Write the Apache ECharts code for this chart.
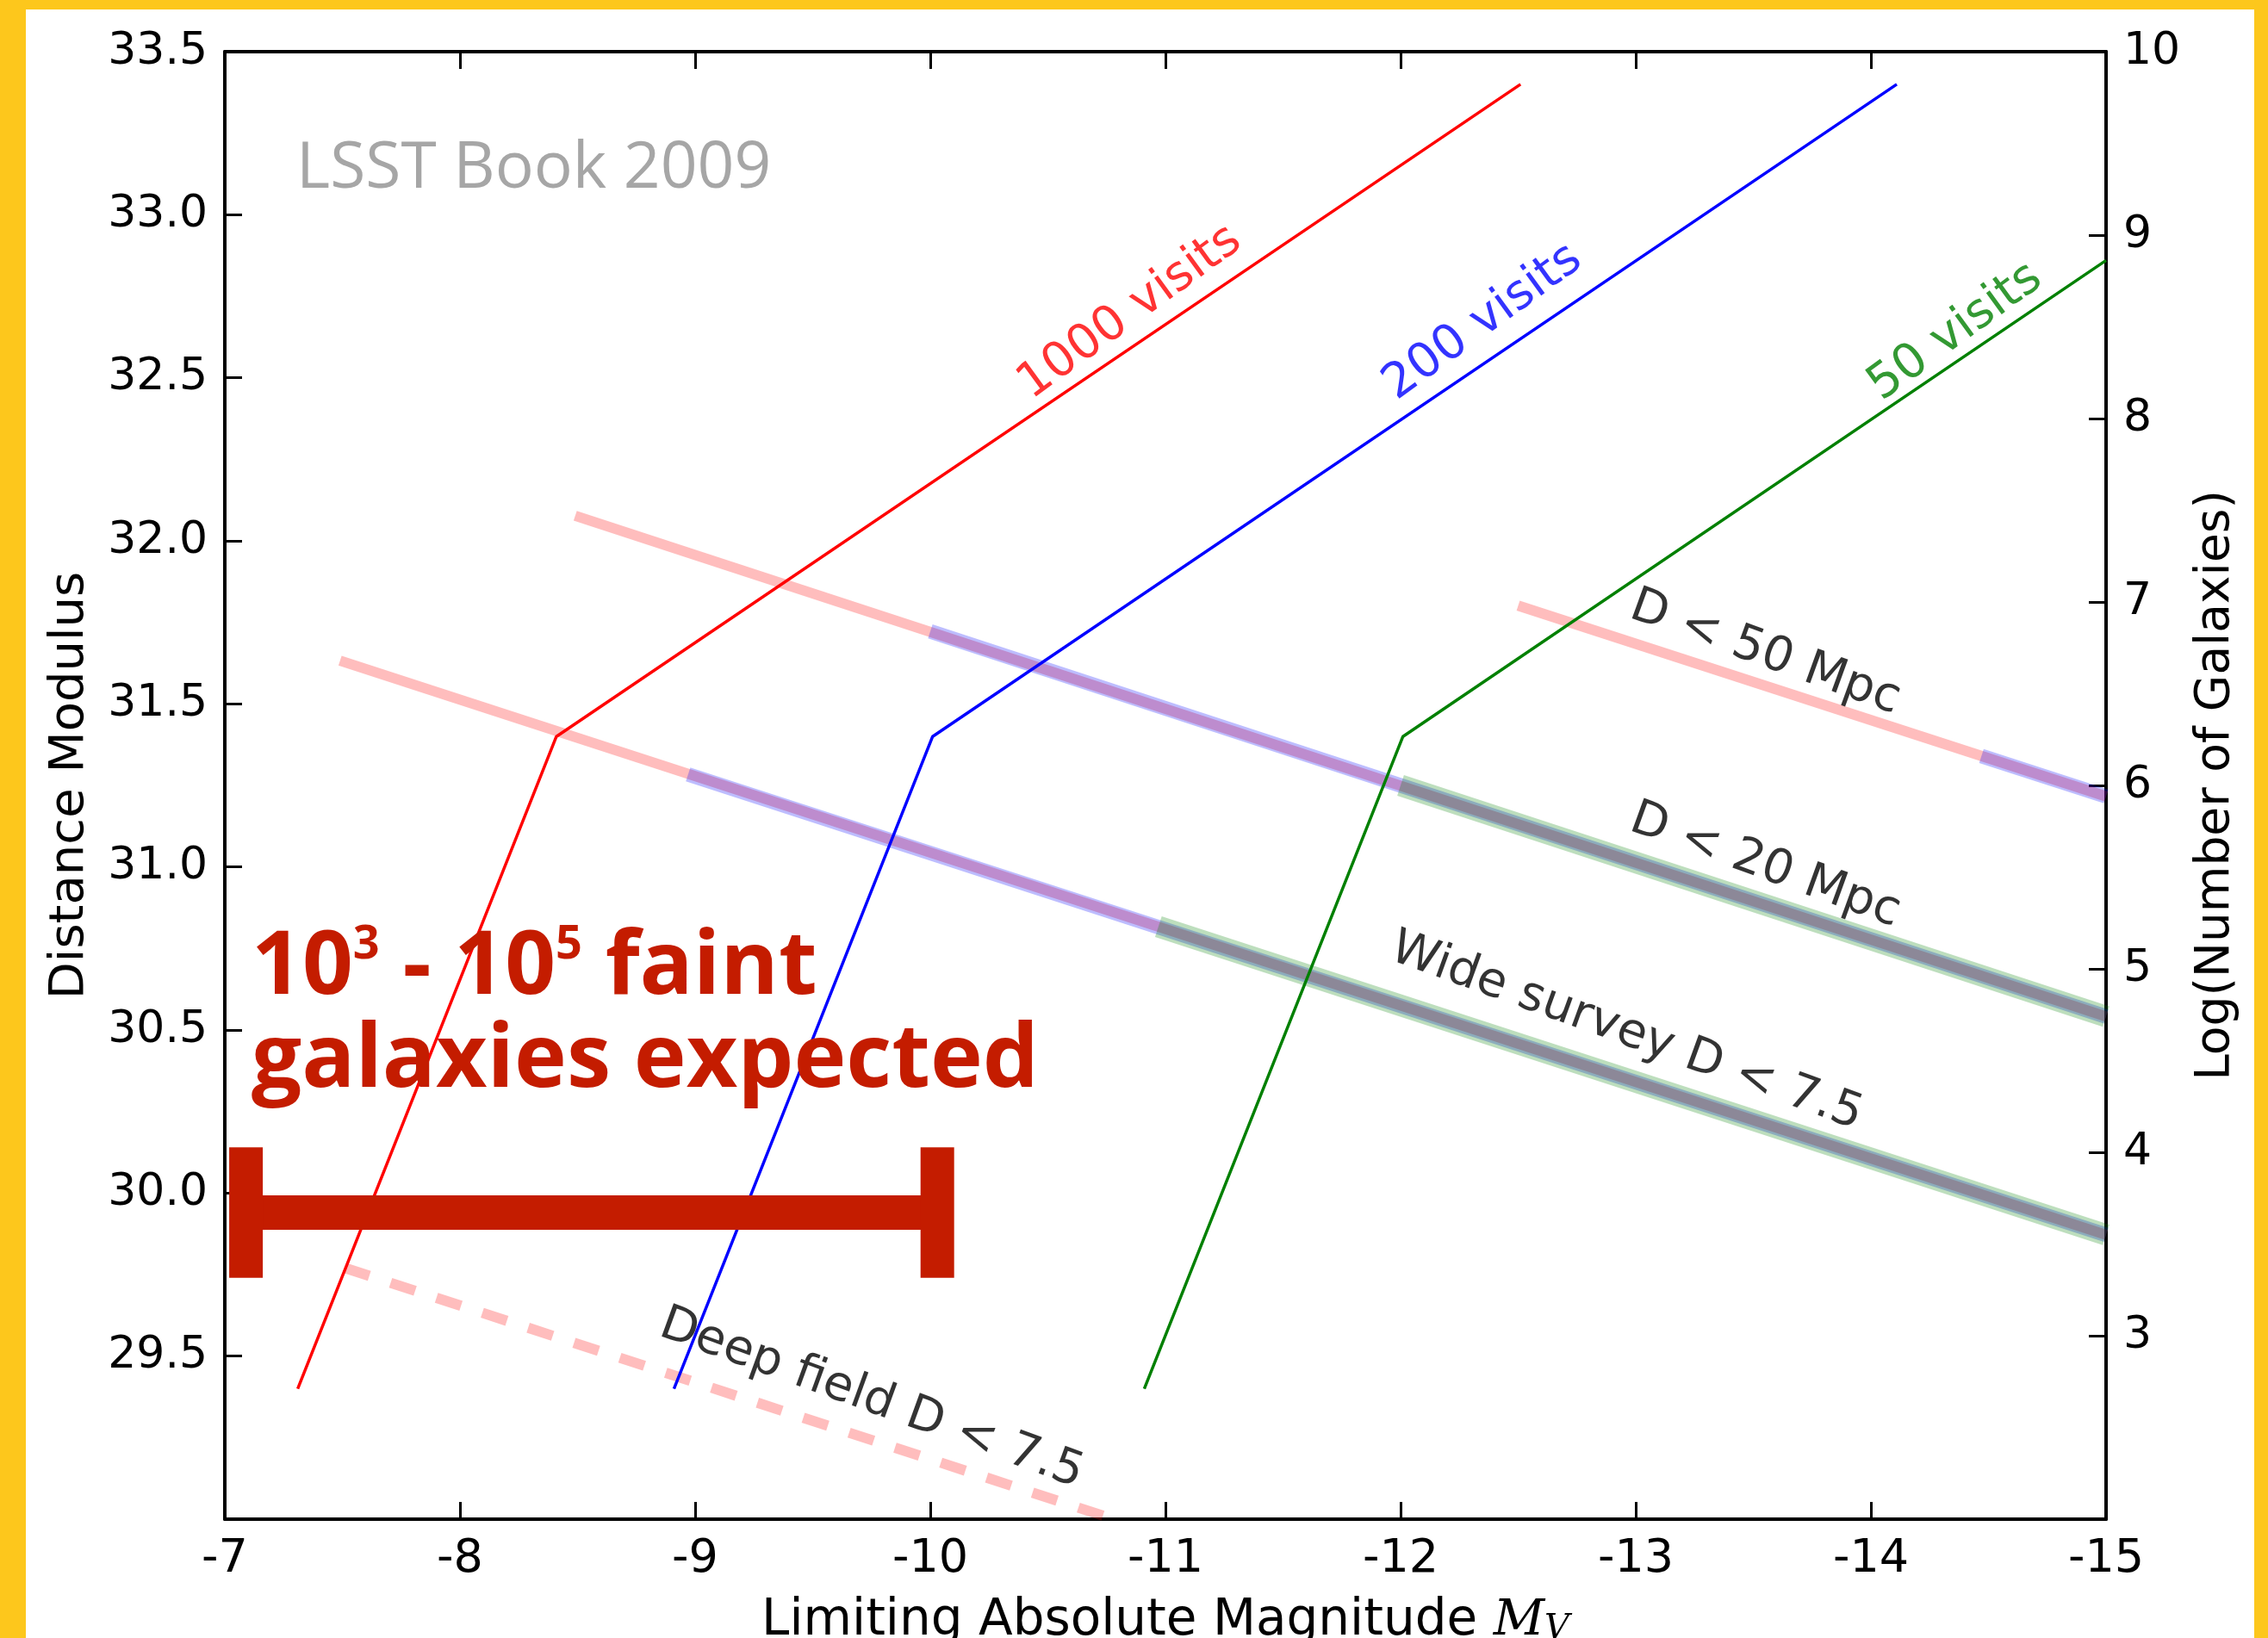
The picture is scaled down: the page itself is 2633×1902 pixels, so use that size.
<!DOCTYPE html>
<html><head><meta charset="utf-8">
<script src="https://cdn.jsdelivr.net/npm/echarts@6/dist/echarts.min.js"></script>
<style>html,body{margin:0;padding:0;background:#FDC71C;}#c{width:2633px;height:1902px;}</style>
</head><body><div id="c"></div>
<script>
// ---------- data ----------
// limiting-magnitude tracks (x = M_V, y = distance modulus, left axis)
const visits1000 = [[-7.31, 29.40], [-8.41, 31.40], [-12.51, 33.40]];
const visits200  = [[-8.91, 29.40], [-10.01, 31.40], [-14.11, 33.40]];
const visits50   = [[-10.91, 29.40], [-12.01, 31.40], [-15.00, 32.86]];
// galaxy-count lines (x = M_V, y = log N, right axis); red/blue/green layers
const d50Red    = [[-12.50, 6.98], [-15.00, 5.94]];
const d50Blue   = [[-14.47, 6.16], [-15.00, 5.94]];
const d20Red    = [[-8.49, 7.47], [-15.00, 4.74]];
const d20Blue   = [[-10.00, 6.84], [-15.00, 4.74]];
const d20Green  = [[-12.00, 6.00], [-15.00, 4.74]];
const wideRed   = [[-7.49, 6.68], [-15.00, 3.55]];
const wideBlue  = [[-8.97, 6.06], [-15.00, 3.55]];
const wideGreen = [[-10.97, 5.23], [-15.00, 3.55]];
const deepRed   = [[-7.51, 3.37], [-10.78, 2.00]];
// highlighted magnitude range (annotation bar)
const faintRangeX = [-7.09, -10.03];
const faintRangeY = 29.94;
const faintCapY = [29.74, 30.14];
// text labels
const visitNames = ['1000 visits', '200 visits', '50 visits'];
const countNames = ['D < 50 Mpc', 'D < 20 Mpc', 'Wide survey D < 7.5', 'Deep field D < 7.5'];

// ---------- layout / style ----------
const RED = '#ff0000', BLUE = '#0000ff', GREEN = '#008000', ANN = '#C41C00';
const visitLabelAt = [[-10.85, 32.70], [-12.35, 32.67], [-14.36, 32.64]];
const visitLabelColor = [RED, BLUE, GREEN];
const countLabelAt = [[-13.55, 6.72], [-13.55, 5.56], [-12.96, 4.655], [-9.75, 2.654]];
const OP = 0.26, WR = 12, WB = 17, WG = 25;

function thin(data, color) {
  return {type: 'line', data, yAxisIndex: 0, symbol: 'none', silent: true, z: 4,
    lineStyle: {color, width: 3.5}};
}
function thick(data, color, w, dashed) {
  return {type: 'line', data, yAxisIndex: 1, symbol: 'none', silent: true, z: 3,
    lineStyle: {color, width: w, opacity: OP, cap: 'butt', type: dashed ? [30, 26] : 'solid'}};
}
function bar(data, w) {
  return {type: 'line', data, yAxisIndex: 0, symbol: 'none', silent: true, z: 6,
    lineStyle: {color: ANN, width: w, cap: 'butt'}};
}
const tickFont = {fontFamily: 'DejaVu Sans', fontSize: 52, color: '#000'};
const spine = {onZero: false, lineStyle: {color: '#000', width: 4}};
const ticks = {inside: true, length: 20, lineStyle: {color: '#000', width: 3}};

const option = {
  backgroundColor: '#FDC71C',
  animation: false,
  grid: {left: 261, right: 188, top: 60, bottom: 138, containLabel: false, outerBoundsMode: 'none'},
  xAxis: [
    {type: 'value', min: -15, max: -7, interval: 1, inverse: true, position: 'bottom',
     axisLine: spine, axisTick: ticks, splitLine: {show: false},
     axisLabel: Object.assign({}, tickFont, {fontSize: 54, margin: 20}),
     name: 'Limiting Absolute Magnitude {i|M}{s|V}', nameLocation: 'middle', nameGap: 90,
     nameTextStyle: {fontFamily: 'DejaVu Sans', fontSize: 58, color: '#000', rich: {
       i: {fontFamily: 'DejaVu Serif', fontStyle: 'italic', fontSize: 58, color: '#000'},
       s: {fontFamily: 'DejaVu Serif', fontStyle: 'italic', fontSize: 40, color: '#000', verticalAlign: 'bottom'}
     }}},
    {type: 'value', min: -15, max: -7, interval: 1, inverse: true, position: 'top',
     axisLine: spine, axisTick: ticks, splitLine: {show: false}, axisLabel: {show: false}}
  ],
  yAxis: [
    {type: 'value', min: 29, max: 33.5, interval: 0.5, position: 'left',
     axisLine: spine, axisTick: ticks, splitLine: {show: false},
     axisLabel: Object.assign({margin: 20, showMinLabel: false, formatter: v => v.toFixed(1)}, tickFont),
     name: 'Distance Modulus', nameLocation: 'middle', nameGap: 152,
     nameTextStyle: {fontFamily: 'DejaVu Sans', fontSize: 56, color: '#000'}},
    {type: 'value', min: 2, max: 10, interval: 1, position: 'right',
     axisLine: spine, axisTick: ticks, splitLine: {show: false},
     axisLabel: Object.assign({margin: 20, showMinLabel: false}, tickFont),
     name: 'Log(Number of Galaxies)', nameLocation: 'middle', nameGap: 100,
     nameTextStyle: {fontFamily: 'DejaVu Sans', fontSize: 55, color: '#000'}}
  ],
  graphic: [
    {type: 'rect', left: 30, top: 11, z: -100, silent: true,
     shape: {width: 2587, height: 1891}, style: {fill: '#ffffff'}},
    {type: 'text', left: 344, top: 159, z: 10, silent: true,
     style: {text: 'LSST Book 2009', fontFamily: 'Open Sans', fontSize: 75, fill: '#a6a6a6'}},
    {type: 'text', left: 292, top: 1071, z: 10, silent: true,
     style: {
       text: '{b|10}{s|3}{b| - 10}{s|5}{b| faint}\n{b|galaxies expected}',
       rich: {
         b: {fontFamily: 'Open Sans', fontWeight: 'bold', fontSize: 103, lineHeight: 108, fill: ANN},
         s: {fontFamily: 'Open Sans', fontWeight: 'bold', fontSize: 54, lineHeight: 82, fill: ANN, verticalAlign: 'top'}
       }
     }}
  ],
  series: [
    thick(d50Red, RED, WR), thick(d50Blue, BLUE, WB),
    thick(d20Red, RED, WR), thick(d20Blue, BLUE, WB), thick(d20Green, GREEN, WG),
    thick(wideRed, RED, WR), thick(wideBlue, BLUE, WB), thick(wideGreen, GREEN, WG),
    thick(deepRed, RED, WR, true),
    thin(visits1000, RED), thin(visits200, BLUE), thin(visits50, GREEN),
    bar([[faintRangeX[0], faintRangeY], [faintRangeX[1], faintRangeY]], 40),
    bar([[faintRangeX[0], faintCapY[0]], [faintRangeX[0], faintCapY[1]]], 39),
    bar([[faintRangeX[1], faintCapY[0]], [faintRangeX[1], faintCapY[1]]], 39),
    {type: 'scatter', yAxisIndex: 0, symbolSize: 0, silent: true, z: 7,
     data: visitNames.map((t, k) => ({value: visitLabelAt[k],
       label: {show: true, formatter: t, color: visitLabelColor[k], rotate: 36}})),
     label: {position: 'inside', fontFamily: 'DejaVu Sans', fontSize: 56}},
    {type: 'scatter', yAxisIndex: 1, symbolSize: 0, silent: true, z: 7,
     data: countNames.map((t, k) => ({value: countLabelAt[k],
       label: {show: true, formatter: t, color: '#000', rotate: -20}})),
     label: {position: 'inside', fontFamily: 'DejaVu Sans', fontSize: 56}}
  ]
};
const chart = echarts.init(document.getElementById('c'), null, {renderer: 'canvas'});
chart.setOption(option);
</script></body></html>
